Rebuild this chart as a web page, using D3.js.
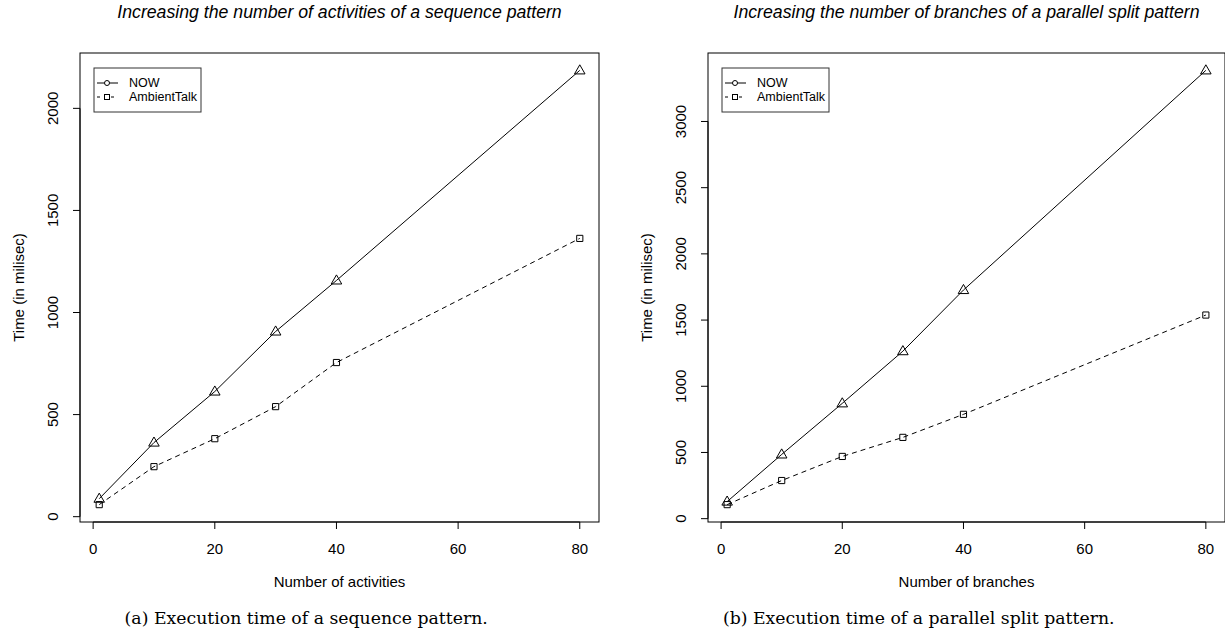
<!DOCTYPE html>
<html>
<head>
<meta charset="utf-8">
<script src="https://cdn.jsdelivr.net/npm/d3@7"></script>
<style>
  body { margin: 0; background: #fff; }
  svg text { font-family: "Liberation Sans", Arial, sans-serif; fill: #000; }
  .title { font-style: italic; font-size: 17.7px; }
  .tick { font-size: 15px; }
  .label { font-size: 15px; }
  .legtext { font-size: 12.5px; }
  .caption { font-family: "DejaVu Serif", serif; font-size: 17.3px; }
</style>
</head>
<body>
<div id="chart"></div>
<script>
// chart texts
var titles = ['Increasing the number of activities of a sequence pattern',
              'Increasing the number of branches of a parallel split pattern'];
var xLabels = ['Number of activities', 'Number of branches'];
var yLabel = 'Time (in milisec)';
var captions = ['(a) Execution time of a sequence pattern.',
                '(b) Execution time of a parallel split pattern.'];
var seriesNames = ['NOW', 'AmbientTalk'];

// data
var xValues = [1, 10, 20, 30, 40, 80];
var seqNow = [88, 363, 613, 907, 1157, 2186];
var seqAmbient = [59, 245, 382, 539, 755, 1363];
var parNow = [129, 485, 871, 1265, 1727, 3386];
var parAmbient = [106, 288, 470, 614, 788, 1538];

// tick labels
var xTicks = [0, 20, 40, 60, 80];
var seqYTicks = [0, 500, 1000, 1500, 2000];
var parYTicks = [0, 500, 1000, 1500, 2000, 2500, 3000];

var W = 1225, H = 639;
var svg;

// R style range: data extent padded by 4 %
function rRange(vals) {
  var lo = d3.min(vals), hi = d3.max(vals), ext = (hi - lo) * 0.04;
  return [lo - ext, hi + ext];
}

function DrawPanel(p) {
  var g = svg.append('g').attr('class', 'panel');

  var xScale = d3.scaleLinear().domain(rRange(xValues)).range([p.left, p.right]);
  var yScale = d3.scaleLinear().domain(rRange(p.now.concat(p.ambient))).range([p.bottom, p.top]);
  var cx = (p.left + p.right) / 2, cy = (p.top + p.bottom) / 2;

  // title
  g.append('text').attr('class', 'title')
    .attr('x', cx).attr('y', 18)
    .attr('text-anchor', 'middle')
    .text(p.title);

  // x axis ticks (R style: line from first to last tick)
  g.append('line')
    .attr('x1', xScale(xTicks[0])).attr('x2', xScale(xTicks[xTicks.length - 1]))
    .attr('y1', p.bottom).attr('y2', p.bottom)
    .attr('stroke', '#000');
  g.selectAll('.xt').data(xTicks).enter().append('line')
    .attr('x1', d => xScale(d)).attr('x2', d => xScale(d))
    .attr('y1', p.bottom).attr('y2', p.bottom + 7)
    .attr('stroke', '#000');
  g.selectAll('.xtl').data(xTicks).enter().append('text')
    .attr('class', 'tick')
    .attr('x', d => xScale(d)).attr('y', p.bottom + 32)
    .attr('text-anchor', 'middle')
    .text(d => d);

  // y axis ticks
  g.append('line')
    .attr('x1', p.left).attr('x2', p.left)
    .attr('y1', yScale(p.yTicks[0])).attr('y2', yScale(p.yTicks[p.yTicks.length - 1]))
    .attr('stroke', '#000');
  g.selectAll('.yt').data(p.yTicks).enter().append('line')
    .attr('x1', p.left - 7).attr('x2', p.left)
    .attr('y1', d => yScale(d)).attr('y2', d => yScale(d))
    .attr('stroke', '#000');
  g.selectAll('.ytl').data(p.yTicks).enter().append('text')
    .attr('class', 'tick')
    .attr('transform', d => 'translate(' + (p.left - 22) + ',' + yScale(d) + ') rotate(-90)')
    .attr('text-anchor', 'middle')
    .text(d => d);

  // axis labels
  g.append('text').attr('class', 'label')
    .attr('x', cx).attr('y', p.bottom + 65)
    .attr('text-anchor', 'middle')
    .text(p.xLabel);
  g.append('text').attr('class', 'label')
    .attr('transform', 'translate(' + (p.left - 56) + ',' + cy + ') rotate(-90)')
    .attr('text-anchor', 'middle')
    .text(yLabel);

  // caption, centred on the sub-figure (half page)
  g.append('text').attr('class', 'caption')
    .attr('x', p.capX).attr('y', 624)
    .attr('text-anchor', 'middle')
    .text(p.caption);

  // lines
  var line = d3.line().x((d, i) => xScale(xValues[i])).y(d => yScale(d));
  g.append('path').datum(p.now)
    .attr('d', line).attr('fill', 'none').attr('stroke', '#000').attr('stroke-width', 1);
  g.append('path').datum(p.ambient)
    .attr('d', line).attr('fill', 'none').attr('stroke', '#000').attr('stroke-width', 1)
    .attr('stroke-dasharray', '5,4');

  // points
  var tri = d3.symbol().type(d3.symbolTriangle).size(48);
  var sq = d3.symbol().type(d3.symbolSquare).size(38);
  g.selectAll('.tri').data(p.now).enter().append('path')
    .attr('d', tri)
    .attr('transform', (d, i) => 'translate(' + xScale(xValues[i]) + ',' + (yScale(d) + 0.5) + ')')
    .attr('fill', 'none').attr('stroke', '#000');
  g.selectAll('.sq').data(p.ambient).enter().append('path')
    .attr('d', sq)
    .attr('transform', (d, i) => 'translate(' + xScale(xValues[i]) + ',' + yScale(d) + ')')
    .attr('fill', 'none').attr('stroke', '#000');

  // box
  g.append('rect')
    .attr('x', p.left).attr('y', p.top)
    .attr('width', p.right - p.left).attr('height', p.bottom - p.top)
    .attr('fill', 'none').attr('stroke', '#000');

  DrawLegend(g, p.left + 14, p.top + 15);
}

function DrawLegend(g, lx, ly) {
  var legendG = g.append('g').attr('transform', 'translate(' + lx + ',' + ly + ')');
  legendG.append('rect')
    .attr('width', 107).attr('height', 44)
    .attr('fill', '#fff').attr('stroke', '#333');
  var rows = legendG.selectAll('.legend').data(seriesNames).enter().append('g')
    .attr('transform', (d, i) => 'translate(0,' + (15 + i * 14) + ')');
  rows.append('line')
    .attr('x1', 3).attr('x2', 24).attr('y1', 0).attr('y2', 0)
    .attr('stroke', '#000')
    .attr('stroke-dasharray', (d, i) => i == 0 ? null : '3,4');
  rows.filter((d, i) => i == 0).append('circle')
    .attr('cx', 13).attr('cy', 0).attr('r', 2.5)
    .attr('fill', '#fff').attr('stroke', '#000');
  rows.filter((d, i) => i == 1).append('rect')
    .attr('x', 10.5).attr('y', -2.5).attr('width', 5).attr('height', 5)
    .attr('fill', '#fff').attr('stroke', '#000');
  rows.append('text').attr('class', 'legtext')
    .attr('x', 35).attr('y', 4)
    .text(d => d);
}

function DrawChart() {
  svg = d3.select('#chart').append('svg')
    .attr('width', W).attr('height', H);

  var panels = [
    { left: 80, right: 599, top: 53, bottom: 522, title: titles[0], xLabel: xLabels[0],
      caption: captions[0], capX: W / 4, now: seqNow, ambient: seqAmbient, yTicks: seqYTicks },
    { left: 708, right: 1225, top: 53, bottom: 522, title: titles[1], xLabel: xLabels[1],
      caption: captions[1], capX: W * 3 / 4, now: parNow, ambient: parAmbient, yTicks: parYTicks }
  ];
  panels.forEach(DrawPanel);
}

DrawChart();
</script>
</body>
</html>
